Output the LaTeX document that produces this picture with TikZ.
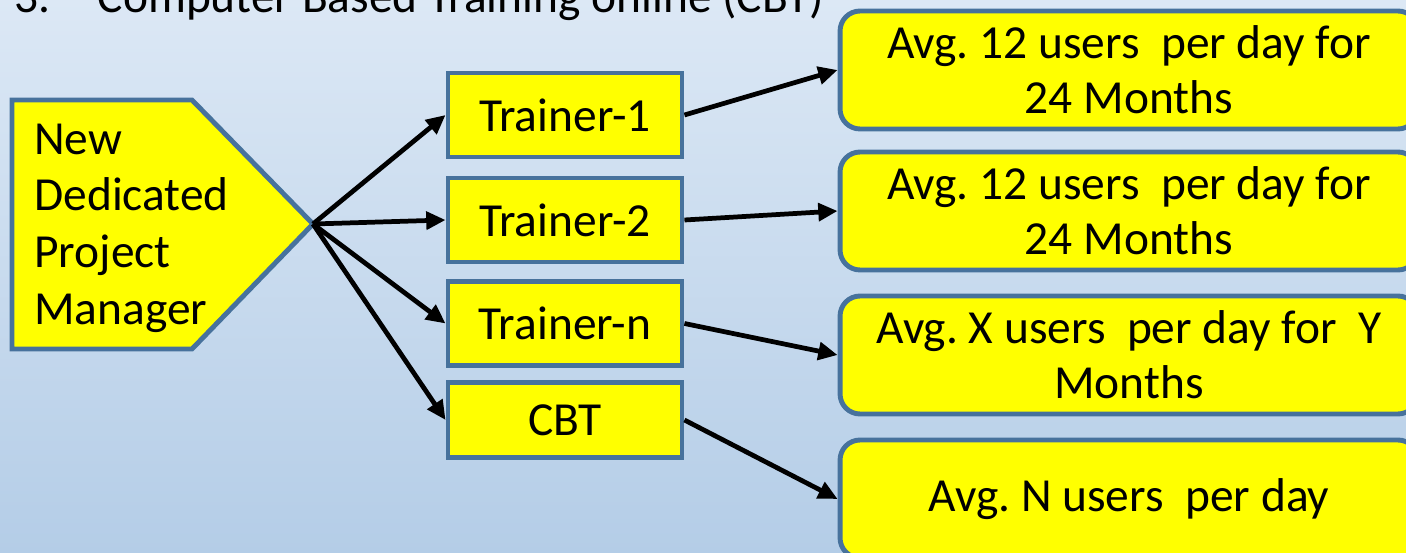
\documentclass[tikz,border=0pt]{standalone}
\usepackage{fontspec}
\setmainfont{Carlito}
\usetikzlibrary{arrows.meta}
\frenchspacing

\definecolor{bgtop}{HTML}{DCE8F5}
\definecolor{bgbottom}{HTML}{B4CDE7}
\definecolor{boxline}{HTML}{47729C}
\definecolor{boxfill}{HTML}{FFFF00}

\tikzset{
  trainerbox/.style={draw=boxline, fill=boxfill, line width=2.8pt,
    minimum width=4.68cm, minimum height=1.68cm, inner sep=0pt},
  userbox/.style={draw=boxline, fill=boxfill, line width=2.8pt, rounded corners=0.4cm,
    minimum width=11.56cm, minimum height=2.36cm, align=center, inner sep=0pt},
  flow/.style={-{Triangle[length=11pt,width=10pt]}, line width=2.7pt, black}
}

\begin{document}
\begin{tikzpicture}[x=0.02cm, y=-0.02cm, font=\fontsize{27}{31.2}\selectfont]
  % Define page and background
  \useasboundingbox (0,0) rectangle (1406,553);
  \clip (0,0) rectangle (1406,553);
  \shade[top color=bgtop, bottom color=bgbottom] (0,0) rectangle (1406,553);

  % Title line (cut off at the top)
  \node[anchor=base west, inner sep=0pt] (title) at (14,13) {3.\hspace{0.95cm}Computer Based Training online (CBT)};

  % Project manager
  \draw[draw=boxline, fill=boxfill, line width=2.8pt] (12,100) -- (192,100) -- (313,224) -- (192,349) -- (12,349) -- cycle;
  \coordinate (tip) at (313,224);
  \node[anchor=west, align=left, inner sep=0pt, font=\fontsize{27}{32.3}\selectfont] (pm) at (34,228) {New\\Dedicated\\Project\\Manager};

  % Trainers
  \node[trainerbox] (t1) at (565,115) {Trainer-1};
  \node[trainerbox] (t2) at (565,220) {Trainer-2};
  \node[trainerbox] (tn) at (565,323.5) {Trainer-n};
  \node[trainerbox, minimum height=1.5cm] (cbt) at (565,420) {CBT};

  % Users
  \node[userbox] (u1) at (1129,70) {Avg. 12 users~ per day for\\24 Months};
  \node[userbox] (u2) at (1129,211) {Avg. 12 users~ per day for\\24 Months};
  \node[userbox] (u3) at (1129,355) {Avg. X users~ per day for~ Y\\Months};
  \node[userbox] (u4) at (1129,499) {Avg. N users~ per day};

  % Draw arrows
  \draw[flow] (tip) -- (t1.west);
  \draw[flow] (tip) -- (t2.west);
  \draw[flow] (tip) -- (tn.west);
  \draw[flow] (tip) -- (cbt.west);
  \draw[flow] (t1.east) -- (u1.west);
  \draw[flow] (t2.east) -- (u2.west);
  \draw[flow] (tn.east) -- (u3.west);
  \draw[flow] (cbt.east) -- (u4.west);
\end{tikzpicture}
\end{document}
